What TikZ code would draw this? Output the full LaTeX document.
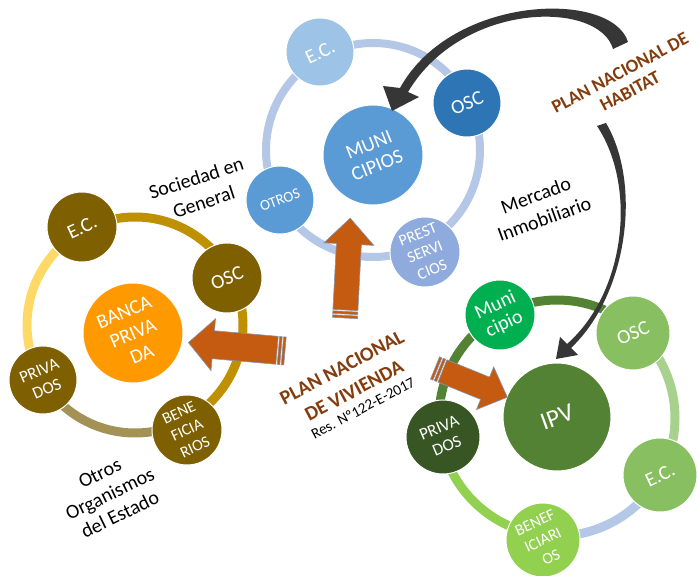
\documentclass[tikz,border=0pt]{standalone}
\usepackage{fontspec}
\setmainfont{Carlito}

\definecolor{ringblue}{HTML}{B4C7E7}
\definecolor{ecblue}{HTML}{9DC3E6}
\definecolor{oscblue}{HTML}{2E75B6}
\definecolor{midblue}{HTML}{5B9BD5}
\definecolor{prestblue}{HTML}{8FAADC}
\definecolor{goldring}{HTML}{BF9000}
\definecolor{yellowring}{HTML}{FFD966}
\definecolor{khakiring}{HTML}{A39155}
\definecolor{olivebub}{HTML}{7F6000}
\definecolor{bancaorange}{HTML}{FF9900}
\definecolor{ringgreen}{HTML}{548235}
\definecolor{ringlight}{HTML}{A9D18E}
\definecolor{ringlime}{HTML}{92D050}
\definecolor{munigreen}{HTML}{00B050}
\definecolor{softgreen}{HTML}{88BF60}
\definecolor{darkgreen}{HTML}{375623}
\definecolor{planbrown}{HTML}{843C0C}
\definecolor{blockorange}{HTML}{C55A11}
\definecolor{blockline}{HTML}{8497B0}
\definecolor{curvegray}{HTML}{363636}

\newcommand\setfs[2]{\fontsize{#1}{#2}\selectfont}

\tikzset{
  ring/.style={line width=9},
  bub/.style={circle, inner sep=0pt, minimum size=#1, draw=white, line width=1,
    text=white, align=center},
  txt/.style={align=center, text=black, inner sep=0pt},
  plan/.style={align=center, text=planbrown, inner sep=0pt},
  blockpart/.style={fill=blockorange, draw=blockline, line width=0.6},
  pics/blockarr/.style args={#1/#2/#3/#4}{code={
    \path[blockpart] (8,-#2) -- (#1-#4,-#2) -- (#1-#4,-#3) -- (#1,0)
      -- (#1-#4,#3) -- (#1-#4,#2) -- (8,#2) -- cycle;
    \path[blockpart] (4,-#2) rectangle (6.6,#2);
    \path[blockpart] (0,-#2) rectangle (2.6,#2);
  }}
}

\begin{document}
\begin{tikzpicture}[x=1pt,y=1pt]
\useasboundingbox (0,0) rectangle (697,576);
\fill[white] (0,0) rectangle (697,576);

% ---- rings ----
\coordinate (bc) at (373,426);
\draw[ring, line width=8, ringblue] (bc) circle[radius=107];

\coordinate (gc) at (135,251);
\draw[ring, goldring]   (gc) ++(27:108)  arc[start angle=27,  end angle=118, radius=108];
\draw[ring, yellowring] (gc) ++(118:108) arc[start angle=118, end angle=211, radius=108];
\draw[ring, khakiring]  (gc) ++(211:108) arc[start angle=211, end angle=296, radius=108];
\draw[ring, goldring]   (gc) ++(296:108) arc[start angle=296, end angle=387, radius=108];

\coordinate (vc) at (557,158);
\draw[ring, ringgreen] (vc) ++(48:118)    arc[start angle=48,    end angle=189.5, radius=118];
\draw[ring, ringlime]  (vc) ++(189.5:118) arc[start angle=189.5, end angle=263.5, radius=118];
\draw[ring, ringblue]  (vc) ++(263.5:118) arc[start angle=263.5, end angle=331,   radius=118];
\draw[ring, ringlight] (vc) ++(331:118)   arc[start angle=331,   end angle=408,   radius=118];

% ---- municipal group ----
\node[bub=68,  fill=ecblue,    rotate=25, font=\setfs{20}{24}] (bEC)   at (320,524) {E.C.};
\node[bub=68,  fill=oscblue,   rotate=22, font=\setfs{20}{24}] (bOSC)  at (467,473) {OSC};
\node[bub=100, fill=midblue,   rotate=22, font=\setfs{20}{22}] (bMUNI) at (373,421) {MUNI\\CIPIOS};
\node[bub=68,  fill=midblue,   rotate=20, font=\setfs{15}{18}] (bOTR)  at (280,376) {OTROS};
\node[bub=70,  fill=prestblue, rotate=22, font=\setfs{16}{19}] (bPRE)  at (425,324) {PREST\\SERVI\\CIOS};

% ---- banking group ----
\node[bub=70,  fill=olivebub,    rotate=25, font=\setfs{20}{24}] (gEC)  at (82,349)  {E.C.};
\node[bub=70,  fill=olivebub,    rotate=22, font=\setfs{20}{24}] (gOSC) at (227,298) {OSC};
\node[bub=100, fill=bancaorange, rotate=23, font=\setfs{20}{23}] (gBAN) at (133,243) {BANCA\\PRIVA\\DA};
\node[bub=68,  fill=olivebub,    rotate=23, font=\setfs{17}{20}] (gPRI) at (43,196)  {PRIVA\\DOS};
\node[bub=70,  fill=olivebub,    rotate=25, font=\setfs{16}{19}] (gBEN) at (187,146) {BENE\\FICIA\\RIOS};

% ---- provincial group ----
\node[bub=70,  fill=munigreen, rotate=25, font=\setfs{20}{21}] (vMUN) at (500,261) {Muni\\cipio};
\node[bub=74,  fill=softgreen, rotate=22, font=\setfs{20}{24}] (vOSC) at (633,243) {OSC};
\node[bub=108, fill=ringgreen, rotate=20, font=\setfs{25}{28}] (vIPV) at (557,159) {IPV};
\node[bub=74,  fill=darkgreen, rotate=23, font=\setfs{17}{20}] (vPRI) at (443,139) {PRIVA\\DOS};
\node[bub=74,  fill=softgreen, rotate=25, font=\setfs{20}{24}] (vEC)  at (660,101) {E.C.};
\node[bub=74,  fill=ringlime,  rotate=25, font=\setfs{16}{19}] (vBEN) at (543,36)  {BENEF\\ICIARI\\OS};

% ---- labels ----
\node[txt, rotate=18, font=\setfs{20}{25}] (soc)  at (200,386) {Sociedad en\\General};
\node[txt, rotate=20, font=\setfs{20}{25}] (merc) at (540,369) {Mercado\\Inmobiliario};
\node[txt, rotate=26, font=\setfs{20}{23}] (oge)  at (110,82)  {Otros\\Organismos\\del Estado};
\node[plan, rotate=28, font=\bfseries\setfs{20}{26}] (pnv) at (348,197) {PLAN NACIONAL\\DE VIVIENDA};
\node[txt, rotate=28, font=\setfs{15}{18}] (res) at (363,168) {Res. Nº122-E-2017};
\node[plan, rotate=28, font=\bfseries\setfs{18.5}{21}] (pnh) at (625,494) {PLAN NACIONAL DE\\HABITAT};

% ---- block arrows ----
\coordinate (upTail) at (345,258);
\coordinate (leftTail) at (285,225);
\coordinate (rightTail) at (435,208);
\pic[rotate=87]  at (upTail)    {blockarr={100/12.5/25/26}};
\pic[rotate=175] at (leftTail)  {blockarr={97/14/26/25}};
\pic[rotate=-22] at (rightTail) {blockarr={78/12/23/24}};

% ---- curved arrows ----
\fill[curvegray] (628,534) .. controls (612,586) and (452,582) .. (400,488)
  -- (383,490) -- (392,465) -- (419,479) -- (408,484)
  .. controls (462,575) and (599,576) .. (613,527) -- cycle;
\fill[curvegray] (606,453) .. controls (642,392) and (628,282) .. (571,228)
  -- (578,221) -- (556,217) -- (560,239) -- (567,232)
  .. controls (626,284) and (637,390) .. (597,450) -- cycle;
\end{tikzpicture}
\end{document}
